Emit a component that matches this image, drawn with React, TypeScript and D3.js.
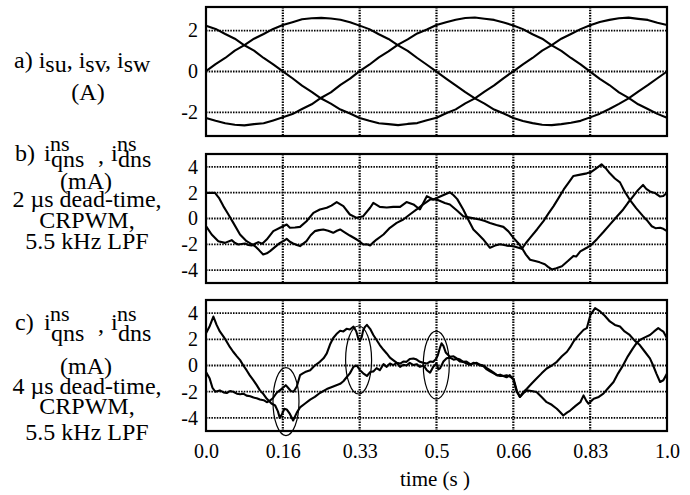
import { useEffect, useRef } from "react";
import * as d3 from "d3";

// time axis: ticks sit at sixths of the record, labelled as in the scope plot
const timeTicks = [0, 1 / 6, 2 / 6, 3 / 6, 4 / 6, 5 / 6, 1];
const timeTickLabels = ["0.0", "0.16", "0.33", "0.5", "0.66", "0.83", "1.0"];
const phaseTicks = [-2, 0, 2];
const nsTicks = [-4, -2, 0, 2, 4];

// a) stator phase currents (A)
const phaseTime = [0, 0.0208, 0.0417, 0.0625, 0.0833, 0.1042, 0.125, 0.1458, 0.1667, 0.1875, 0.2083, 0.2292, 0.25, 0.2708, 0.2917, 0.3125, 0.3333, 0.3542, 0.375, 0.3958, 0.4167, 0.4375, 0.4583, 0.4792, 0.5, 0.5208, 0.5417, 0.5625, 0.5833, 0.6042, 0.625, 0.6458, 0.6667, 0.6875, 0.7083, 0.7292, 0.75, 0.7708, 0.7917, 0.8125, 0.8333, 0.8542, 0.875, 0.8958, 0.9167, 0.9375, 0.9583, 0.9792, 1.0];
const isu = [0.02, 0.36, 0.66, 1.02, 1.29, 1.6, 1.83, 2.08, 2.27, 2.41, 2.55, 2.6, 2.62, 2.59, 2.53, 2.41, 2.24, 2.07, 1.82, 1.59, 1.28, 1.01, 0.66, 0.33, -0.01, -0.35, -0.68, -1.01, -1.31, -1.57, -1.86, -2.05, -2.27, -2.42, -2.52, -2.6, -2.62, -2.57, -2.5, -2.41, -2.24, -2.06, -1.83, -1.58, -1.31, -0.98, -0.67, -0.33, 0.0];
const isv = [2.23, 2.08, 1.83, 1.6, 1.28, 1.02, 0.66, 0.35, 0.01, -0.33, -0.69, -0.99, -1.32, -1.57, -1.86, -2.05, -2.27, -2.41, -2.53, -2.57, -2.62, -2.56, -2.52, -2.38, -2.26, -2.04, -1.85, -1.56, -1.31, -0.98, -0.68, -0.32, 0.01, 0.35, 0.66, 1.02, 1.29, 1.6, 1.83, 2.07, 2.26, 2.42, 2.52, 2.6, 2.63, 2.57, 2.52, 2.38, 2.27];
const isw = [-2.27, -2.41, -2.53, -2.6, -2.63, -2.57, -2.53, -2.39, -2.24, -2.08, -1.83, -1.6, -1.28, -1.02, -0.65, -0.35, 0.02, 0.33, 0.69, 0.98, 1.31, 1.57, 1.86, 2.05, 2.27, 2.41, 2.53, 2.61, 2.64, 2.58, 2.52, 2.39, 2.25, 2.07, 1.82, 1.6, 1.28, 1.01, 0.66, 0.35, -0.01, -0.36, -0.66, -1.02, -1.29, -1.6, -1.83, -2.07, -2.26];

// b) negative-sequence currents, 2 us dead-time (mA) — [time, value]
const bIqns: [number, number][] = [[0, 1.99], [0.0195, 1.99], [0.028, 1.6], [0.0376, 0.96], [0.048, 0.35], [0.0593, -0.34], [0.0738, -1.24], [0.088, -1.76], [0.097, -1.95], [0.106, -2.14], [0.115, -2.45], [0.124, -2.79], [0.132, -2.7], [0.139, -2.53], [0.15, -2.2], [0.1605, -1.89], [0.168, -1.75], [0.175, -1.58], [0.182, -1.8], [0.189, -1.94], [0.197, -2.05], [0.204, -2.14], [0.211, -1.95], [0.218, -1.76], [0.227, -1.3], [0.236, -0.98], [0.245, -0.9], [0.2545, -0.85], [0.265, -0.95], [0.276, -1.11], [0.284, -0.95], [0.291, -0.85], [0.3, -1.05], [0.312, -1.32], [0.327, -1.63], [0.334, -1.8], [0.341, -2.02], [0.349, -2.0], [0.356, -2.09], [0.363, -1.85], [0.37, -1.63], [0.385, -1.24], [0.399, -0.72], [0.4136, -0.34], [0.428, -0.08], [0.442, 0.31], [0.457, 0.7], [0.471, 1.09], [0.486, 1.47], [0.5, 1.47], [0.508, 1.35], [0.518, 1.2], [0.529, 1.08], [0.545, 0.6], [0.558, 0.18], [0.575, 0.05], [0.594, -0.08], [0.605, -0.2], [0.616, -0.34], [0.63, -0.5], [0.645, -0.65], [0.656, -1.0], [0.667, -1.5], [0.677, -1.9], [0.685, -2.27], [0.694, -2.8], [0.703, -3.2], [0.714, -3.3], [0.724, -3.4], [0.735, -3.55], [0.742, -3.75], [0.75, -3.95], [0.76, -3.85], [0.772, -3.7], [0.785, -3.3], [0.797, -2.9], [0.803, -2.95], [0.812, -2.55], [0.826, -2.27], [0.837, -2.0], [0.848, -1.6], [0.862, -1.05], [0.876, -0.47], [0.89, 0.1], [0.905, 0.7], [0.915, 1.2], [0.926, 1.7], [0.937, 2.2], [0.948, 2.6], [0.955, 2.3], [0.963, 2.1], [0.975, 1.95], [0.985, 1.7], [0.992, 1.75], [1.0, 2.0]];
const bIdns: [number, number][] = [[0, -0.59], [0.0123, -1.24], [0.0267, -1.76], [0.041, -1.89], [0.0557, -1.68], [0.063, -1.9], [0.07, -2.02], [0.0846, -1.94], [0.092, -2.05], [0.099, -2.09], [0.1135, -1.83], [0.122, -1.95], [0.1316, -1.63], [0.146, -0.98], [0.1605, -0.72], [0.175, -0.47], [0.182, -0.72], [0.193, -0.7], [0.204, -0.65], [0.218, -0.21], [0.233, 0.44], [0.247, 0.7], [0.262, 0.83], [0.272, 1.0], [0.2835, 1.27], [0.298, 0.96], [0.312, 0.31], [0.327, 0.05], [0.341, 0.18], [0.356, 0.83], [0.363, 1.21], [0.377, 0.9], [0.392, 0.85], [0.406, 0.9], [0.421, 0.9], [0.435, 1.27], [0.45, 1.09], [0.464, 0.7], [0.479, 1.73], [0.493, 1.47], [0.508, 1.7], [0.529, 2.04], [0.537, 1.8], [0.545, 1.5], [0.558, 0.7], [0.569, -0.1], [0.58, -0.85], [0.59, -1.2], [0.601, -1.6], [0.616, -2.27], [0.627, -2.1], [0.638, -2.0], [0.652, -2.1], [0.667, -2.15], [0.685, -2.35], [0.694, -1.9], [0.703, -1.5], [0.718, -0.85], [0.732, -0.2], [0.743, 0.4], [0.754, 0.96], [0.765, 1.6], [0.776, 2.25], [0.787, 2.8], [0.797, 3.3], [0.812, 3.4], [0.826, 3.5], [0.835, 3.6], [0.845, 3.85], [0.858, 4.2], [0.867, 3.9], [0.876, 3.5], [0.887, 3.1], [0.898, 2.8], [0.908, 2.1], [0.919, 1.47], [0.933, 0.8], [0.948, 0.18], [0.958, -0.2], [0.967, -0.6], [0.975, -0.75], [0.985, -0.72], [0.992, -0.8], [1.0, -0.98]];

// c) negative-sequence currents, 4 us dead-time (mA) — [time, value]
const cIqns: [number, number][] = [[0, 2.46], [0.008, 3.0], [0.016, 3.74], [0.023, 3.1], [0.03, 2.6], [0.038, 2.2], [0.045, 1.82], [0.052, 1.4], [0.059, 1.05], [0.067, 0.7], [0.074, 0.41], [0.081, 0.0], [0.088, -0.36], [0.095, -0.75], [0.103, -1.13], [0.11, -1.5], [0.117, -1.9], [0.125, -2.2], [0.132, -2.54], [0.142, -2.9], [0.15, -3.05], [0.156, -3.5], [0.16, -4.0], [0.165, -3.7], [0.17, -3.3], [0.175, -3.35], [0.182, -3.7], [0.189, -4.2], [0.197, -3.6], [0.204, -3.2], [0.215, -2.9], [0.226, -2.6], [0.236, -2.4], [0.247, -2.1], [0.262, -1.8], [0.276, -1.6], [0.291, -1.4], [0.298, -1.2], [0.305, -0.9], [0.312, -0.6], [0.32, -0.1], [0.327, 0.0], [0.334, -0.36], [0.341, -0.6], [0.349, -0.8], [0.356, -0.5], [0.363, -0.45], [0.37, -0.2], [0.377, -0.36], [0.385, 0.1], [0.392, -0.1], [0.399, 0.15], [0.406, 0.03], [0.414, 0.2], [0.421, -0.1], [0.428, 0.05], [0.435, 0.0], [0.442, 0.2], [0.45, 0.03], [0.457, 0.1], [0.464, -0.1], [0.472, 0.0], [0.479, -0.36], [0.486, -0.55], [0.493, -0.1], [0.5, 0.15], [0.504, -0.3], [0.508, -0.2], [0.515, 0.3], [0.522, 0.55], [0.529, 0.6], [0.537, 0.45], [0.544, 0.5], [0.551, 0.3], [0.558, 0.28], [0.565, 0.15], [0.573, 0.05], [0.58, 0.2], [0.587, 0.15], [0.595, 0.0], [0.602, -0.05], [0.609, -0.3], [0.616, -0.45], [0.624, -0.6], [0.631, -0.74], [0.638, -0.7], [0.645, -0.8], [0.652, -0.75], [0.659, -0.85], [0.667, -1.0], [0.674, -1.9], [0.681, -2.4], [0.689, -2.0], [0.696, -1.77], [0.706, -1.4], [0.717, -1.0], [0.728, -0.6], [0.739, -0.23], [0.75, 0.0], [0.761, 0.28], [0.772, 0.7], [0.783, 1.05], [0.79, 1.4], [0.797, 1.82], [0.808, 2.3], [0.819, 2.72], [0.826, 2.85], [0.834, 3.87], [0.844, 4.38], [0.855, 4.13], [0.865, 3.8], [0.876, 3.36], [0.887, 3.1], [0.898, 2.97], [0.908, 2.6], [0.919, 2.33], [0.93, 1.9], [0.941, 1.56], [0.952, 1.05], [0.963, 0.54], [0.97, 0.0], [0.977, -0.62], [0.985, -1.26], [0.992, -1.13], [1.0, -0.62]];
const cIdns: [number, number][] = [[0, -0.49], [0.008, -1.0], [0.014, -1.7], [0.02, -2.0], [0.03, -1.9], [0.038, -2.05], [0.045, -2.1], [0.052, -1.95], [0.059, -2.0], [0.067, -2.15], [0.074, -2.2], [0.081, -2.15], [0.088, -2.3], [0.096, -2.35], [0.103, -2.45], [0.11, -2.5], [0.117, -2.6], [0.125, -2.65], [0.132, -2.8], [0.138, -2.7], [0.145, -2.5], [0.153, -2.1], [0.16, -1.9], [0.167, -1.7], [0.173, -1.5], [0.178, -1.7], [0.184, -1.95], [0.19, -2.0], [0.197, -1.6], [0.204, -0.74], [0.21, -0.6], [0.215, -0.5], [0.226, -0.36], [0.236, 0.0], [0.247, 0.28], [0.255, 0.55], [0.262, 0.92], [0.269, 1.6], [0.276, 2.1], [0.283, 2.4], [0.291, 2.65], [0.298, 2.6], [0.305, 2.8], [0.312, 2.75], [0.32, 2.97], [0.326, 2.6], [0.33, 2.1], [0.334, 1.9], [0.338, 2.2], [0.341, 2.7], [0.345, 2.95], [0.349, 3.1], [0.356, 2.8], [0.363, 2.33], [0.37, 1.95], [0.377, 1.56], [0.385, 1.2], [0.392, 0.92], [0.399, 0.6], [0.406, 0.41], [0.414, 0.2], [0.421, 0.15], [0.428, 0.3], [0.435, 0.28], [0.442, 0.5], [0.45, 0.54], [0.457, 0.45], [0.464, 0.28], [0.472, 0.2], [0.479, 0.15], [0.486, 0.3], [0.493, 0.28], [0.499, 0.5], [0.503, 0.8], [0.507, 1.3], [0.511, 1.69], [0.515, 1.5], [0.52, 1.0], [0.529, 0.67], [0.537, 0.7], [0.544, 0.54], [0.551, 0.45], [0.558, 0.28], [0.565, 0.3], [0.573, 0.1], [0.58, 0.15], [0.587, 0.2], [0.595, 0.05], [0.602, 0.0], [0.609, -0.2], [0.616, -0.36], [0.624, -0.55], [0.631, -0.74], [0.638, -0.8], [0.645, -0.8], [0.652, -0.9], [0.659, -0.74], [0.667, -1.1], [0.674, -2.0], [0.681, -2.4], [0.689, -2.1], [0.696, -1.9], [0.706, -1.95], [0.717, -2.03], [0.728, -2.4], [0.739, -2.8], [0.75, -3.0], [0.761, -3.3], [0.768, -3.55], [0.775, -3.82], [0.783, -3.6], [0.79, -3.44], [0.801, -3.1], [0.812, -2.8], [0.819, -2.28], [0.825, -2.7], [0.83, -2.92], [0.836, -2.7], [0.841, -2.54], [0.852, -2.4], [0.862, -2.15], [0.873, -1.7], [0.884, -1.26], [0.894, -0.6], [0.905, 0.03], [0.915, 0.7], [0.926, 1.31], [0.934, 1.7], [0.941, 1.95], [0.952, 2.15], [0.963, 2.33], [0.972, 2.6], [0.981, 2.85], [0.987, 2.7], [0.992, 2.59], [1.0, 2.08]];

// ringed disturbances in panel c, [time, value] of each ellipse centre
const ringed: [number, number][] = [[0.1735, -2.75], [0.331, 0.42], [0.4995, 0.03]];

const FONT = "'Liberation Serif', 'Times New Roman', serif";

export default function App() {
  const svgRef = useRef<SVGSVGElement>(null);

  useEffect(() => {
    const svg = d3.select(svgRef.current);
    svg.selectAll("*").remove();

    const x = d3.scaleLinear().domain([0, 1]).range([206, 667]);

    const panels = [
      { top: 7, bottom: 136, domain: [-3.15, 3.15], ticks: phaseTicks,
        series: [isu, isv, isw].map(s => s.map((v, i) => [phaseTime[i], v] as [number, number])) },
      { top: 154, bottom: 283, domain: [-5, 5], ticks: nsTicks, series: [bIqns, bIdns] },
      { top: 300, bottom: 431, domain: [-5, 5], ticks: nsTicks, series: [cIqns, cIdns] },
    ];

    panels.forEach((p, pi) => {
      const y = d3.scaleLinear().domain(p.domain).range([p.bottom, p.top]);
      const g = svg.append("g");

      // dotted grid
      g.selectAll(".hgrid")
        .data(p.ticks)
        .join("line")
        .attr("x1", x(0)).attr("x2", x(1))
        .attr("y1", d => y(d)).attr("y2", d => y(d))
        .attr("stroke", "#000")
        .attr("stroke-width", 1.8)
        .attr("stroke-dasharray", "1.5,1.2");
      g.selectAll(".vgrid")
        .data(timeTicks.slice(1, -1))
        .join("line")
        .attr("x1", d => x(d)).attr("x2", d => x(d))
        .attr("y1", p.top).attr("y2", p.bottom)
        .attr("stroke", "#000")
        .attr("stroke-width", 2.2)
        .attr("stroke-dasharray", "1.5,1.2");

      // traces
      const line = d3.line<[number, number]>()
        .x(d => x(d[0]))
        .y(d => y(d[1]));
      g.selectAll(".trace")
        .data(p.series)
        .join("path")
        .attr("d", d => line(d))
        .attr("fill", "none")
        .attr("stroke", "#000")
        .attr("stroke-width", 2.1)
        .attr("stroke-linejoin", "round");

      // frame
      g.append("rect")
        .attr("x", x(0)).attr("y", p.top)
        .attr("width", x(1) - x(0)).attr("height", p.bottom - p.top)
        .attr("fill", "none")
        .attr("stroke", "#000")
        .attr("stroke-width", 2.2);

      // y tick labels
      const yAxis = g.append("g")
        .attr("transform", `translate(${x(0)},0)`)
        .call(d3.axisLeft(y).tickValues(p.ticks).tickSize(0).tickPadding(8).tickFormat(d => String(d)));
      yAxis.select(".domain").remove();
      yAxis.selectAll("text").attr("font-family", FONT).attr("font-size", 20).attr("fill", "#000");

      if (pi === 2) {
        ringed.forEach(([t, v]) => {
          g.append("ellipse")
            .attr("cx", x(t)).attr("cy", y(v))
            .attr("rx", 13).attr("ry", 34)
            .attr("fill", "none")
            .attr("stroke", "#000")
            .attr("stroke-width", 1.2);
        });

        const xAxis = g.append("g")
          .attr("transform", `translate(0,${p.bottom})`)
          .call(d3.axisBottom(x).tickValues(timeTicks).tickSize(0).tickPadding(13)
            .tickFormat((d, i) => timeTickLabels[i]));
        xAxis.select(".domain").remove();
        xAxis.selectAll("text").attr("font-family", FONT).attr("font-size", 20).attr("fill", "#000");
      }
    });

    // left-hand captions
    const cap = svg.append("g")
      .attr("font-family", FONT)
      .attr("fill", "#000");

    const put = (txt: string, tx: number, ty: number, size = 24, anchor = "start") =>
      cap.append("text").attr("x", tx).attr("y", ty).attr("font-size", size)
        .attr("text-anchor", anchor).text(txt);

    // a)
    const a = cap.append("text").attr("x", 14).attr("y", 68).attr("font-size", 24);
    a.append("tspan").text("a) i");
    a.append("tspan").attr("dy", 4).text("su");
    a.append("tspan").attr("dy", -4).text(", i");
    a.append("tspan").attr("dy", 4).text("sv");
    a.append("tspan").attr("dy", -4).text(", i");
    a.append("tspan").attr("dy", 4).text("sw");
    put("(A)", 88, 100, 24, "middle");

    // symbol line: i^ns_qns , i^ns_dns, stacked scripts in a single text
    const symbols = (tag: string, base: number, supUp: number, subDown: number) => {
      const t = cap.append("text").attr("font-size", 24);
      const part = (s: string, px: number, py: number, size = 24) =>
        t.append("tspan").attr("x", px).attr("y", py).attr("font-size", size).text(s);
      part(tag, 15, base);
      part("i", 44, base);
      part("ns", 50, base - supUp, 22);
      part("qns", 51, base + subDown);
      part(",", 98, base + 2);
      part("i", 111, base);
      part("ns", 117, base - supUp, 22);
      part("dns", 118, base + subDown);
    };

    // b)
    symbols("b)", 161, 10, 6);
    put("(mA)", 86, 189, 24, "middle");
    put("2 \u00b5s dead-time,", 87, 207, 24, "middle");
    put("CRPWM,", 87, 228, 24, "middle");
    put("5.5 kHz LPF", 87, 249, 24, "middle");

    // c)
    symbols("c)", 330, 9, 11);
    put("(mA)", 86, 374, 24, "middle");
    put("4 \u00b5s dead-time,", 87, 394, 24, "middle");
    put("CRPWM,", 87, 414, 24, "middle");
    put("5.5 kHz LPF", 87, 440, 24, "middle");

    put("time (s )", 435, 486, 21, "middle");
  }, []);

  return (
    <svg
      ref={svgRef}
      width={690}
      height={495}
      style={{ position: "absolute", left: 0, top: 0, background: "#fff" }}
    />
  );
}
